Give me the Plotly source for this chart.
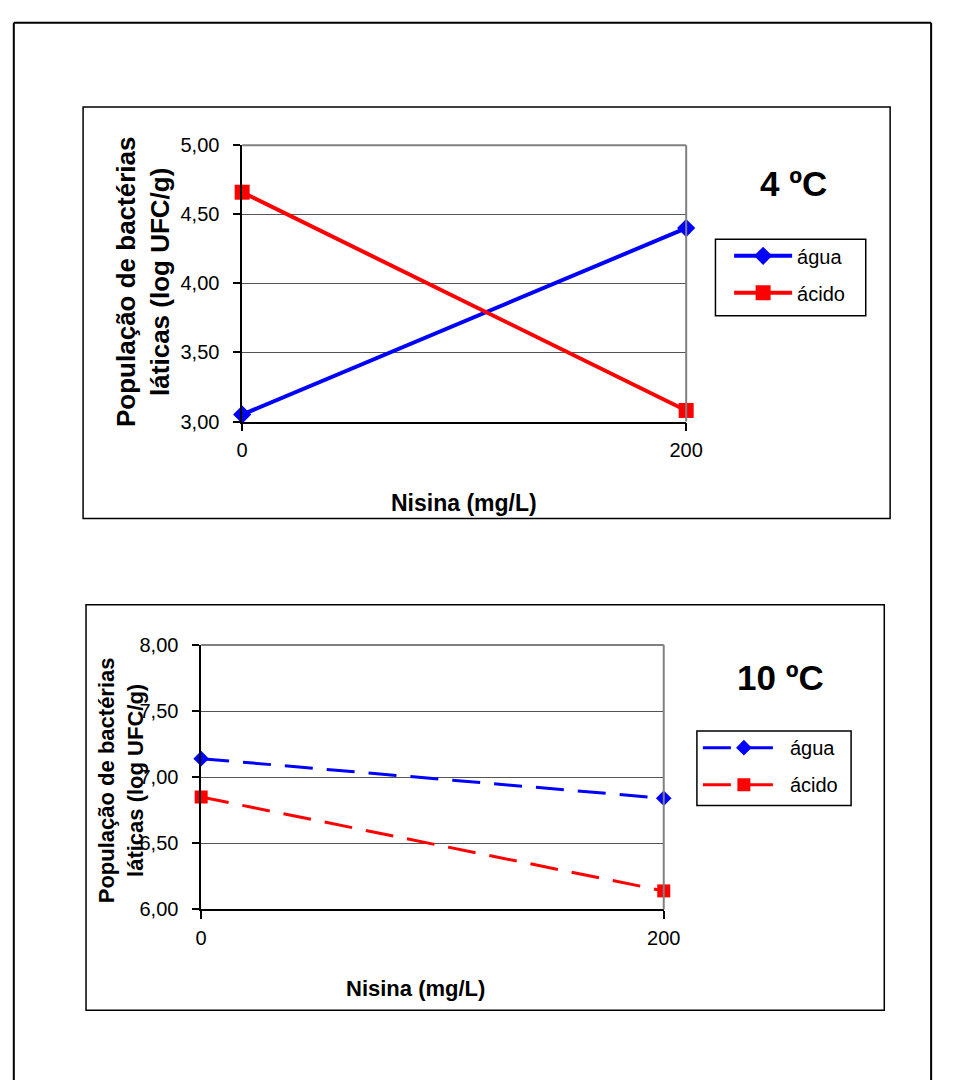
import plotly.graph_objects as go

W, H = 953, 1086

# ---- data ----
nisina = [0, 200]
nisina_labels = ["0", "200"]
agua_4C = [3.05, 4.40]
acido_4C = [4.66, 3.08]
agua_10C = [7.14, 6.84]
acido_10C = [6.85, 6.14]
yticks_4C = [3.0, 3.5, 4.0, 4.5, 5.0]
yticks_10C = [6.0, 6.5, 7.0, 7.5, 8.0]
series_names = ["água", "ácido"]
titles = ["4 ºC", "10 ºC"]
ytitle = "População de bactérias<br>láticas (log UFC/g)"
xtitle = "Nisina (mg/L)"

FONT = "Liberation Sans, Arial, sans-serif"
BLUE = "#0000FF"
RED = "#FF0000"


def px(x):
    return x / W


def py(y):
    return 1 - y / H


fig = go.Figure()

# top chart (4 ºC)
fig.add_trace(go.Scatter(
    x=nisina, y=agua_4C, name=series_names[0], mode="lines+markers",
    line=dict(color=BLUE, width=4), marker=dict(symbol="diamond", size=14, color=BLUE),
    xaxis="x", yaxis="y", legend="legend", legendgroup="a1", cliponaxis=False))
fig.add_trace(go.Scatter(
    x=nisina, y=acido_4C, name=series_names[1], mode="lines+markers",
    line=dict(color=RED, width=4), marker=dict(symbol="square", size=15, color=RED),
    xaxis="x", yaxis="y", legend="legend", legendgroup="b1", cliponaxis=False))

# bottom chart (10 ºC)
fig.add_trace(go.Scatter(
    x=nisina, y=agua_10C, name=series_names[0], mode="lines+markers",
    line=dict(color=BLUE, width=3, dash="28px,14px"),
    marker=dict(symbol="diamond", size=12, color=BLUE),
    xaxis="x2", yaxis="y2", legend="legend2", legendgroup="a2", cliponaxis=False))
fig.add_trace(go.Scatter(
    x=nisina, y=acido_10C, name=series_names[1], mode="lines+markers",
    line=dict(color=RED, width=3, dash="28px,14px"),
    marker=dict(symbol="square", size=13, color=RED),
    xaxis="x2", yaxis="y2", legend="legend2", legendgroup="b2", cliponaxis=False))

tickfont = dict(family=FONT, size=20, color="black")

xcommon = dict(range=[0, 200], tickvals=nisina, ticktext=nisina_labels, showgrid=False,
               zeroline=False, showline=True, linecolor="black", linewidth=1.5,
               ticks="outside", ticklen=8, tickcolor="black", tickwidth=1.5,
               tickfont=tickfont, ticklabelstandoff=2, fixedrange=True)
ycommon = dict(dtick=0.5, tickformat=".2f", showgrid=True, gridcolor="#555555", gridwidth=1,
               zeroline=False, showline=True, linecolor="black", linewidth=1.5,
               ticks="outside", ticklen=7, tickcolor="black", tickwidth=1.5,
               tickfont=tickfont, ticklabelstandoff=10, fixedrange=True)

legfont = dict(family=FONT, size=20, color="black")

fig.update_layout(
    width=W, height=H, margin=dict(l=0, r=0, t=0, b=0),
    paper_bgcolor="white", plot_bgcolor="white",
    separators=",.",
    showlegend=True,
    xaxis=dict(domain=[px(242), px(697)], anchor="y", **xcommon),
    yaxis=dict(domain=[py(419), py(137)], anchor="x", range=[3, 5], tickvals=yticks_4C, **ycommon),
    xaxis2=dict(domain=[px(200), px(674)], anchor="y2", **xcommon),
    yaxis2=dict(domain=[py(917), py(647)], anchor="x2", range=[6, 8], tickvals=yticks_10C, **ycommon),
    legend=dict(x=px(741), y=py(230), xanchor="left", yanchor="top",
                borderwidth=0, bgcolor="rgba(0,0,0,0)", font=legfont,
                itemwidth=58, tracegroupgap=8),
    legend2=dict(x=px(709), y=py(732), xanchor="left", yanchor="top",
                 borderwidth=0, bgcolor="rgba(0,0,0,0)", font=legfont,
                 itemwidth=82, tracegroupgap=8),
)

shapes = []
# outer page frame (left, top, right)
for (x0, y0, x1, y1) in [(8, 12, 8, H + 5), (8, 12, 948, 12), (948, 12, 948, H + 5)]:
    shapes.append(dict(type="line", xref="paper", yref="paper",
                       x0=px(x0), y0=py(y0), x1=px(x1), y1=py(y1),
                       line=dict(color="black", width=2)))
# chart boxes and legend boxes
for (x0, y0, x1, y1) in [(79, 98, 906, 518), (82, 606, 900, 1020),
                         (727, 233, 881, 311), (708, 735, 866, 811)]:
    shapes.append(dict(type="rect", xref="paper", yref="paper",
                       x0=px(x0), y0=py(y0), x1=px(x1), y1=py(y1),
                       line=dict(color="black", width=1.5), layer="below"))
# gray plot-area border (top and right)
for xa, ya in [("x", "y"), ("x2", "y2")]:
    shapes.append(dict(type="line", xref=xa + " domain", yref=ya + " domain",
                       x0=0, y0=1, x1=1, y1=1, line=dict(color="#808080", width=2)))
    shapes.append(dict(type="line", xref=xa + " domain", yref=ya + " domain",
                       x0=1, y0=0, x1=1, y1=1, line=dict(color="#808080", width=2)))
fig.update_layout(shapes=shapes)

annotations = [
    dict(text="<b>" + titles[0] + "</b>", x=px(807), y=py(176), xref="paper", yref="paper",
         xanchor="center", yanchor="middle", showarrow=False,
         font=dict(family=FONT, size=35, color="black")),
    dict(text="<b>" + titles[1] + "</b>", x=px(794), y=py(680), xref="paper", yref="paper",
         xanchor="center", yanchor="middle", showarrow=False,
         font=dict(family=FONT, size=35, color="black")),
    dict(text="<b>" + ytitle + "</b>", x=px(141), y=py(277), xref="paper", yref="paper",
         xanchor="center", yanchor="middle", showarrow=False, textangle=-90,
         font=dict(family=FONT, size=26, color="black")),
    dict(text="<b>" + ytitle + "</b>", x=px(118), y=py(785), xref="paper", yref="paper",
         xanchor="center", yanchor="middle", showarrow=False, textangle=-90,
         font=dict(family=FONT, size=22, color="black")),
    dict(text="<b>" + xtitle + "</b>", x=px(469), y=py(502), xref="paper", yref="paper",
         xanchor="center", yanchor="middle", showarrow=False,
         font=dict(family=FONT, size=23, color="black")),
    dict(text="<b>" + xtitle + "</b>", x=px(420), y=py(998), xref="paper", yref="paper",
         xanchor="center", yanchor="middle", showarrow=False,
         font=dict(family=FONT, size=22, color="black")),
]
fig.update_layout(annotations=annotations)

fig.write_html("out.html", config={"displayModeBar": False},
               post_script="document.body.style.margin='0';document.body.style.overflow='hidden';")
